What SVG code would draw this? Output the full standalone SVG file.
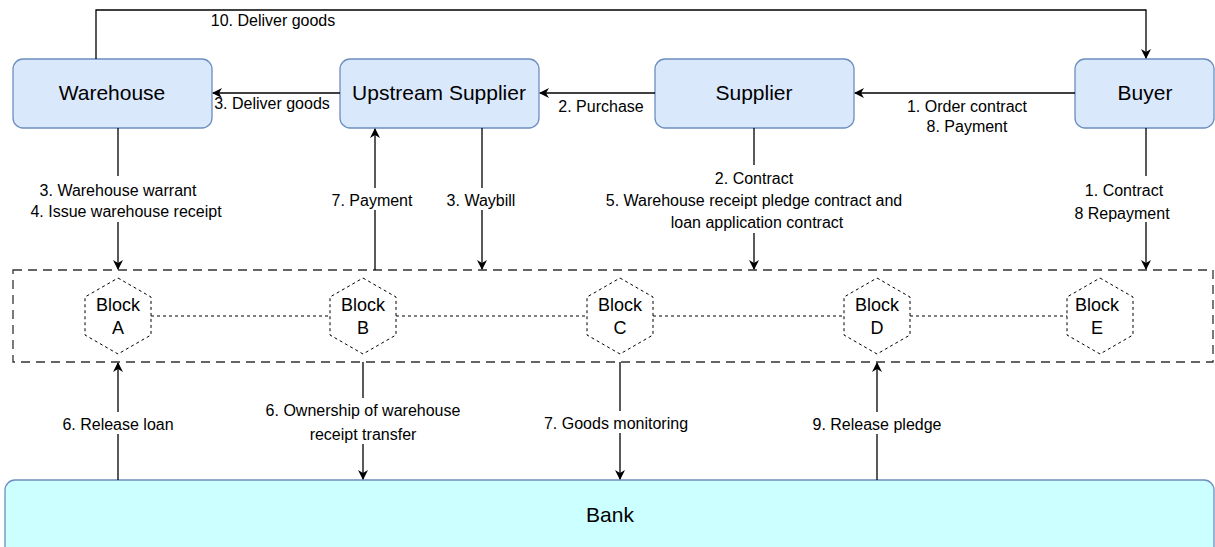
<svg xmlns="http://www.w3.org/2000/svg" width="1215" height="547" viewBox="0 0 1215 547">
  <defs>
    <marker id="arrow" viewBox="0 0 10 10" refX="9" refY="5" markerWidth="10" markerHeight="10" markerUnits="userSpaceOnUse" orient="auto">
      <path d="M0,0 L10,5 L0,10 L3,5 Z" fill="#000"/>
    </marker>
    <marker id="arrowBig" viewBox="0 0 10 10" refX="9" refY="5" markerWidth="14" markerHeight="14" markerUnits="userSpaceOnUse" orient="auto">
      <path d="M0,0 L10,5 L0,10 L3,5 Z" fill="#000"/>
    </marker>
  </defs>
  <style>
    .node { fill: #dae8fc; stroke: #6c8ebf; stroke-width: 1.3; }
    .bank { fill: #ccffff; stroke: #6c8ebf; stroke-width: 1.3; }
    .title { font-family: "Liberation Sans", Arial, sans-serif; font-size: 21px; fill: #000; text-anchor: middle; }
    .lbl { font-family: "Liberation Sans", Arial, sans-serif; font-size: 16px; fill: #000; text-anchor: middle; }
    .blk { font-family: "Liberation Sans", Arial, sans-serif; font-size: 18px; fill: #000; text-anchor: middle; }
    .hex { fill: none; stroke: #000; stroke-width: 1; stroke-dasharray: 3 3; }
    .chain { stroke: #000; stroke-width: 1; stroke-dasharray: 3 3; fill: none; }
    .edge { stroke: #000; stroke-width: 1.3; fill: none; marker-end: url(#arrow); }
    .lblbg { fill: #fff; }
  </style>

  <rect width="1215" height="547" fill="#fff"/>

  <!-- blockchain layer -->
  <g id="chain-layer">
    <rect x="13" y="270" width="1200" height="92" fill="none" stroke="#333" stroke-width="1.3" stroke-dasharray="9 6"/>
    <line class="chain" x1="151" y1="316" x2="331" y2="316"/>
    <line class="chain" x1="396" y1="316" x2="587" y2="316"/>
    <line class="chain" x1="653" y1="316" x2="844" y2="316"/>
    <line class="chain" x1="910" y1="316" x2="1067" y2="316"/>
  </g>

  <!-- nodes -->
  <g id="warehouse">
    <rect class="node" x="13" y="59" width="199" height="69" rx="10"/>
    <text class="title" x="112" y="100">Warehouse</text>
  </g>
  <g id="upstream-supplier">
    <rect class="node" x="340" y="59" width="199" height="69" rx="10"/>
    <text class="title" x="439" y="100">Upstream Supplier</text>
  </g>
  <g id="supplier">
    <rect class="node" x="655" y="59" width="199" height="69" rx="10"/>
    <text class="title" x="754" y="100">Supplier</text>
  </g>
  <g id="buyer">
    <rect class="node" x="1075" y="59" width="139" height="69" rx="10"/>
    <text class="title" x="1145" y="100">Buyer</text>
  </g>
  <g id="bank">
    <rect class="bank" x="5" y="480" width="1209" height="80" rx="10"/>
    <text class="title" x="610" y="522">Bank</text>
  </g>

  <g id="block-a">
    <polygon class="hex" points="118,278 151,297 151,335 118,354 85,335 85,297"/>
    <text class="blk" x="118" y="311">Block</text>
    <text class="blk" x="118" y="334">A</text>
  </g>
  <g id="block-b">
    <polygon class="hex" points="363,278 396,297 396,335 363,354 330,335 330,297"/>
    <text class="blk" x="363" y="311">Block</text>
    <text class="blk" x="363" y="334">B</text>
  </g>
  <g id="block-c">
    <polygon class="hex" points="620,278 653,297 653,335 620,354 587,335 587,297"/>
    <text class="blk" x="620" y="311">Block</text>
    <text class="blk" x="620" y="334">C</text>
  </g>
  <g id="block-d">
    <polygon class="hex" points="877,278 910,297 910,335 877,354 844,335 844,297"/>
    <text class="blk" x="877" y="311">Block</text>
    <text class="blk" x="877" y="334">D</text>
  </g>
  <g id="block-e">
    <polygon class="hex" points="1100,278 1133,297 1133,335 1100,354 1067,335 1067,297"/>
    <text class="blk" x="1097" y="311">Block</text>
    <text class="blk" x="1097" y="334">E</text>
  </g>

  <!-- connectors -->
  <g id="connectors">
    <!-- top row -->
    <path class="edge" d="M96,59 V10 H1146 V58" marker-end="url(#arrowBig)"/>
    <path class="edge" d="M340,93 H213"/>
    <path class="edge" d="M655,93 H540"/>
    <path class="edge" d="M1075,93 H855"/>
    <!-- down into the chain -->
    <path class="edge" d="M118,128 V269"/>
    <path class="edge" d="M375,270 V129"/>
    <path class="edge" d="M482,128 V269"/>
    <path class="edge" d="M754,128 V269"/>
    <path class="edge" d="M1146,128 V269"/>
    <!-- between chain and bank -->
    <path class="edge" d="M118,480 V363"/>
    <path class="edge" d="M363,362 V479"/>
    <path class="edge" d="M620,362 V479"/>
    <path class="edge" d="M877,480 V363"/>

    <!-- label backgrounds on vertical edges -->
    <rect class="lblbg" x="26" y="176" width="196" height="46"/>
    <rect class="lblbg" x="328" y="188" width="96" height="22"/>
    <rect class="lblbg" x="440" y="188" width="84" height="22"/>
    <rect class="lblbg" x="596" y="165" width="318" height="68"/>
    <rect class="lblbg" x="1076" y="176" width="102" height="46"/>
    <rect class="lblbg" x="52" y="412" width="132" height="22"/>
    <rect class="lblbg" x="256" y="398" width="214" height="46"/>
    <rect class="lblbg" x="534" y="411" width="172" height="22"/>
    <rect class="lblbg" x="802" y="412" width="150" height="22"/>

    <!-- labels -->
    <text class="lbl" x="273" y="26">10. Deliver goods</text>
    <text class="lbl" x="272" y="109">3. Deliver goods</text>
    <text class="lbl" x="601" y="112">2. Purchase</text>
    <text class="lbl" x="967" y="112">1. Order contract</text>
    <text class="lbl" x="967" y="132">8. Payment</text>
    <text class="lbl" x="118" y="196">3. Warehouse warrant</text>
    <text class="lbl" x="126" y="217">4. Issue warehouse receipt</text>
    <text class="lbl" x="372" y="206">7. Payment</text>
    <text class="lbl" x="481" y="206">3. Waybill</text>
    <text class="lbl" x="754" y="184">2. Contract</text>
    <text class="lbl" x="754" y="206">5. Warehouse receipt pledge contract and</text>
    <text class="lbl" x="757" y="228">loan application contract</text>
    <text class="lbl" x="1124" y="196">1. Contract</text>
    <text class="lbl" x="1122" y="219">8 Repayment</text>
    <text class="lbl" x="118" y="430">6. Release loan</text>
    <text class="lbl" x="363" y="416">6. Ownership of warehouse</text>
    <text class="lbl" x="363" y="440">receipt transfer</text>
    <text class="lbl" x="616" y="429">7. Goods monitoring</text>
    <text class="lbl" x="877" y="430">9. Release pledge</text>
  </g>
</svg>
